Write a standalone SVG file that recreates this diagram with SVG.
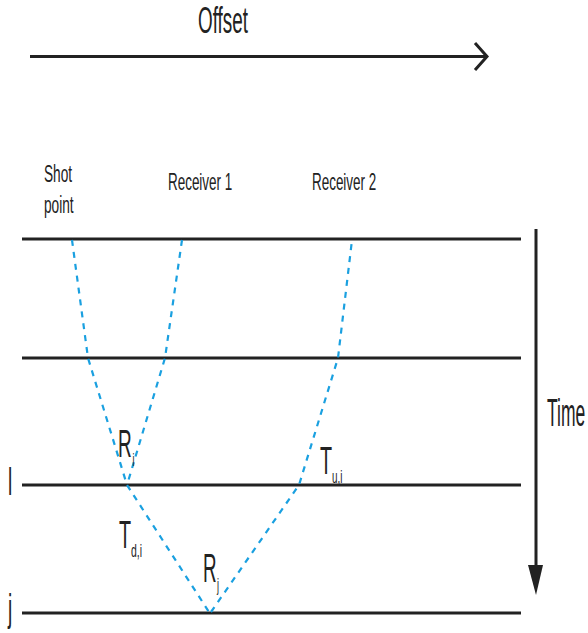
<svg xmlns="http://www.w3.org/2000/svg" width="588" height="633" viewBox="0 0 588 633">
<style>
.t{font-family:"Liberation Sans",Arial,sans-serif;fill:#222}
.ln{stroke:#222;stroke-width:3;fill:none}
.ray{stroke:#1aa0e0;stroke-width:2.2;fill:none;stroke-dasharray:6,6}
</style>
<rect width="588" height="633" fill="#fff"/>
<g id="offset-axis">
<line class="ln" x1="30" y1="56.5" x2="486" y2="56.5" stroke-width="3.5"/>
<polyline class="ln" points="475,43 487,56.5 475,70" stroke-width="3"/>
<text class="t" font-size="37" transform="translate(198,33) scale(0.51,1)">Offset</text>
</g>
<g id="time-axis">
<line class="ln" x1="536" y1="229" x2="536" y2="570" stroke-width="2"/>
<polygon points="528,565 543,565 536,595" fill="#222"/>
<text class="t" font-size="38" transform="translate(547,426) scale(0.46,1)">Time</text>
</g>
<g id="interfaces">
<line class="ln" x1="22" y1="239" x2="521" y2="239"/>
<line class="ln" x1="22" y1="358" x2="521" y2="358"/>
<line class="ln" x1="22" y1="485" x2="521" y2="485"/>
<line class="ln" x1="22" y1="613" x2="521" y2="613"/>
</g>
<g id="labels">
<text class="t" font-size="24" transform="translate(44,182) scale(0.57,1)">Shot</text>
<text class="t" font-size="24" transform="translate(44,213) scale(0.57,1)">point</text>
<text class="t" font-size="24" transform="translate(168,190) scale(0.56,1)">Receiver 1</text>
<text class="t" font-size="24" transform="translate(312,190) scale(0.56,1)">Receiver 2</text>
<text class="t" font-size="38" transform="translate(8,495) scale(0.5,1)">l</text>
<text class="t" font-size="38" transform="translate(8,621) scale(0.5,1)">j</text>
</g>
<g id="connectors">
<polyline class="ray" points="72,240 88,358 127,485 209,612"/>
<polyline class="ray" points="182,240 165,358 127,485"/>
<polyline class="ray" points="211,612 299,485 338,358 352,240"/>
</g>
<g id="ray-labels">
<text class="t" font-size="38" transform="translate(118,457) scale(0.5,1)">R</text>
<text class="t" font-size="18" transform="translate(132.5,466) scale(0.5,1)">i</text>
<text class="t" font-size="38" transform="translate(119,548) scale(0.52,1)">T</text>
<text class="t" font-size="18" transform="translate(131,557) scale(0.58,1)">d,i</text>
<text class="t" font-size="40" transform="translate(203,582) scale(0.47,1)">R</text>
<text class="t" font-size="18" transform="translate(217,591) scale(0.5,1)">j</text>
<text class="t" font-size="38" transform="translate(320,474) scale(0.52,1)">T</text>
<text class="t" font-size="18" transform="translate(332,483) scale(0.55,1)">u,i</text>
</g>
</svg>
